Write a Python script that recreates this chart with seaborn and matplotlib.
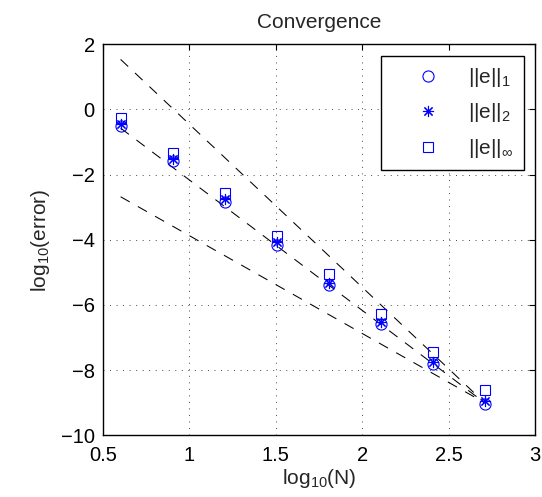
import numpy as np
import pandas as pd
import seaborn as sns
import matplotlib
matplotlib.use('Agg')
import matplotlib.pyplot as plt

# datos (log10 de N y log10 del error)
log_n = [0.602, 0.903, 1.204, 1.505, 1.806, 2.107, 2.408, 2.709]
err_1 = [-0.52, -1.59, -2.84, -4.16, -5.39, -6.59, -7.81, -9.03]
err_2 = [-0.44, -1.51, -2.76, -4.08, -5.31, -6.51, -7.76, -8.96]
err_inf = [-0.27, -1.33, -2.55, -3.88, -5.06, -6.27, -7.45, -8.62]

# pendientes de las rectas de referencia (pasan por el ultimo punto)
ref_slopes = [5, 4, 3]
ref_anchor = -9.0

x_ticks = [0.5, 1, 1.5, 2, 2.5, 3]
y_ticks = [-10, -8, -6, -4, -2, 0, 2]

sns.set_style('white')
plt.rcParams['font.family'] = ['Liberation Sans', 'DejaVu Sans']
plt.rcParams['mathtext.fontset'] = 'custom'
plt.rcParams['mathtext.rm'] = 'Liberation Sans'
plt.rcParams['mathtext.it'] = 'Liberation Sans:italic'
plt.rcParams['mathtext.default'] = 'regular'

fig = plt.figure(figsize=(5.42, 4.97), dpi=100)
ax = fig.add_axes([0.19, 0.124, 0.797, 0.787])

# rectas de referencia
for k in ref_slopes:
    xr = np.array([log_n[0], log_n[-1]])
    yr = ref_anchor - k * (xr - log_n[-1])
    sns.lineplot(x=xr, y=yr, ax=ax, color='black', linewidth=0.75,
                 linestyle=(0, (10, 9)), legend=False)

# normas del error
series = [(err_1, 'o', 8, r'$||e||_1$'),
          (err_2, (8, 2, 0), 8, r'$||e||_2$'),
          (err_inf, 's', 7.5, r'$||e||_\infty$')]
for vals, mk, ms, lab in series:
    sns.lineplot(x=log_n, y=vals, ax=ax, marker=mk, linestyle='', color='blue',
                 markerfacecolor='none', markeredgecolor='blue', markersize=ms,
                 markeredgewidth=0.8, label=lab)

ax.set_xlim(0.5, 3)
ax.set_ylim(-10, 2)
ax.set_xticks(x_ticks)
ax.set_xticklabels(['0.5', '1', '1.5', '2', '2.5', '3'])
ax.set_yticks(y_ticks)
ax.set_yticklabels([str(v).replace('-', '\u2212') for v in y_ticks])
ax.tick_params(direction='in', length=4, width=0.8, labelsize=14.5, top=True, right=True,
               colors='black')
ax.tick_params(axis='x', pad=8)
ax.tick_params(axis='y', pad=6)
ax.grid(True, color='black', linestyle=(0, (1.4, 8)), linewidth=0.5)
for s in ax.spines.values():
    s.set_color('black')
    s.set_linewidth(1.0)

ax.set_title('Convergence', fontsize=15, pad=12)
ax.set_xlabel('log$_{10}$(N)', fontsize=15, labelpad=1)
ax.set_ylabel('log$_{10}$(error)', fontsize=15, labelpad=6)

h, l = ax.get_legend_handles_labels()
leg = ax.legend(h[-3:], l[-3:], loc='upper right', bbox_to_anchor=(0.9745, 0.971),
                borderaxespad=0, fancybox=False, edgecolor='black', fontsize=15,
                handlelength=3.5, handletextpad=0.2, labelspacing=0.6, borderpad=0.5)
leg.get_frame().set_linewidth(1.0)
leg.get_frame().set_alpha(1)

fig.savefig('out.png', dpi=100)
